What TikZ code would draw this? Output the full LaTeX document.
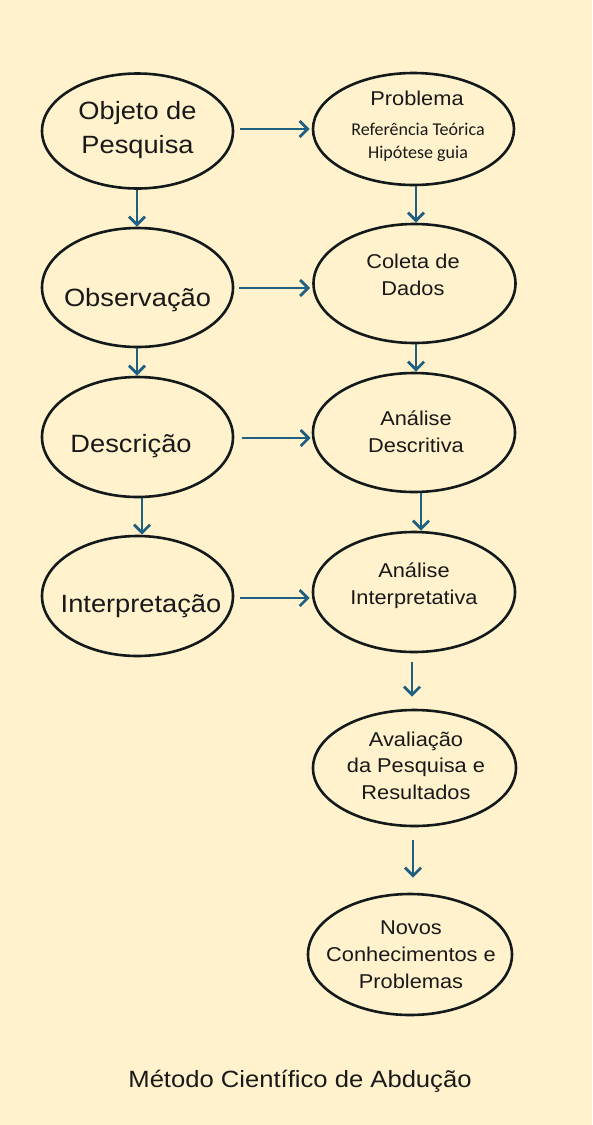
\documentclass[tikz,border=0pt]{standalone}
\usepackage{fontspec}
\setmainfont{Liberation Sans}[FakeStretch=1.09]
\newfontfamily\carl{Carlito}
\usetikzlibrary{arrows.meta,shapes.geometric}
\definecolor{bgc}{HTML}{FFF2CC}
\definecolor{arrc}{HTML}{1F5F82}
\definecolor{edgec}{HTML}{121A1C}
\begin{document}
\begin{tikzpicture}[x=1pt,y=-1pt,
  ell/.style={ellipse,draw=edgec,line width=2.6pt,inner sep=0pt},
  bigtxt/.style={align=center,anchor=base,font=\fontsize{25}{34}\selectfont,text=black!90},
  smtxt/.style={align=center,anchor=base,font=\fontsize{20}{27}\selectfont,text=black!90},
  arr/.style={draw=arrc,line width=2.8pt,-{Straight Barb[length=8pt,width=16pt,line width=2.8pt]}}]
\fill[bgc] (0,0) rectangle (592,1125);
\useasboundingbox (0,0) rectangle (592,1125);
% ellipses
\node[ell,minimum width=191pt,minimum height=115pt] (obj) at (137.5,131) {};
\node[ell,minimum width=201pt,minimum height=112pt] (prob) at (413.5,129) {};
\node[ell,minimum width=191pt,minimum height=119pt] (obs) at (137.5,287.5) {};
\node[ell,minimum width=202pt,minimum height=119pt] (col) at (414.5,283.5) {};
\node[ell,minimum width=191pt,minimum height=120pt] (desc) at (137.5,437) {};
\node[ell,minimum width=202pt,minimum height=119pt] (ades) at (414,432.5) {};
\node[ell,minimum width=191pt,minimum height=120pt] (interp) at (137.5,596) {};
\node[ell,minimum width=202pt,minimum height=120pt] (aint) at (414,592) {};
\node[ell,minimum width=203pt,minimum height=116pt] (aval) at (414.5,768) {};
\node[ell,minimum width=204pt,minimum height=121pt] (novos) at (410,954.5) {};
% texts (base anchor = baseline of last line)
\node[bigtxt] (tobj) at (137.5,153) {Objeto de\\Pesquisa};
\node[smtxt] (tprob) at (417,105) {Problema};
\node[anchor=base,font=\carl\fontsize{18}{23}\selectfont,text=black!90] (tref) at (418,135.7) {Referência Teórica};
\node[anchor=base,font=\carl\fontsize{18}{23}\selectfont,text=black!90] (thip) at (418,158) {Hipótese guia};
\node[bigtxt] (tobs) at (137.5,306) {Observação};
\node[smtxt] (tcol) at (413,295) {Coleta de\\Dados};
\node[bigtxt] (tdesc) at (131,452.7) {Descrição};
\node[smtxt] (tades) at (416,452.3) {Análise\\Descritiva};
\node[bigtxt] (tint) at (141,612) {Interpretação};
\node[smtxt] (taint) at (414,604.3) {Análise\\Interpretativa};
\node[smtxt,font=\fontsize{20}{26.6}\selectfont] (taval) at (416,799.3) {Avaliação\\da Pesquisa e\\Resultados};
\node[smtxt,font=\fontsize{20}{26.7}\selectfont] (tnov) at (411,988.3) {Novos\\Conhecimentos e\\Problemas};
\node[anchor=base,font=\fontsize{23.5}{28}\selectfont,text=black!90] (title) at (300,1087.3) {Método Científico de Abdução};
% x guides
\coordinate (c137) at (137,0);
\coordinate (c142) at (142,0);
\coordinate (c416) at (416,0);
\coordinate (c421) at (421,0);
\coordinate (c412) at (412,0);
\coordinate (c413) at (413,0);
% horizontal arrows
\draw[arr] ([xshift=6pt]obj.east |- 0,129) -- ([xshift=-2pt]prob.west |- 0,129);
\draw[arr] ([xshift=5pt]obs.east |- 0,288) -- ([xshift=-2pt]col.west |- 0,288);
\draw[arr] ([xshift=8pt]desc.east |- 0,438) -- ([xshift=-1pt]ades.west |- 0,438);
\draw[arr] ([xshift=6pt]interp.east |- 0,598) -- ([xshift=-2pt]aint.west |- 0,598);
% vertical arrows (yshift is in page units: positive = up)
\draw[arr] (obj.south -| c137) -- (obs.north -| c137);
\draw[arr] (prob.south -| c416) -- (col.north -| c416);
\draw[arr] (obs.south -| c137) -- (desc.north -| c137);
\draw[arr] (col.south -| c416) -- (ades.north -| c416);
\draw[arr] (desc.south -| c142) -- (interp.north -| c142);
\draw[arr] (ades.south -| c421) -- (aint.north -| c421);
\draw[arr] ([yshift=-9pt]aint.south -| c412) -- ([yshift=12pt]aval.north -| c412);
\draw[arr] ([yshift=-13pt]aval.south -| c413) -- ([yshift=15pt]novos.north -| c413);
\end{tikzpicture}
\end{document}
